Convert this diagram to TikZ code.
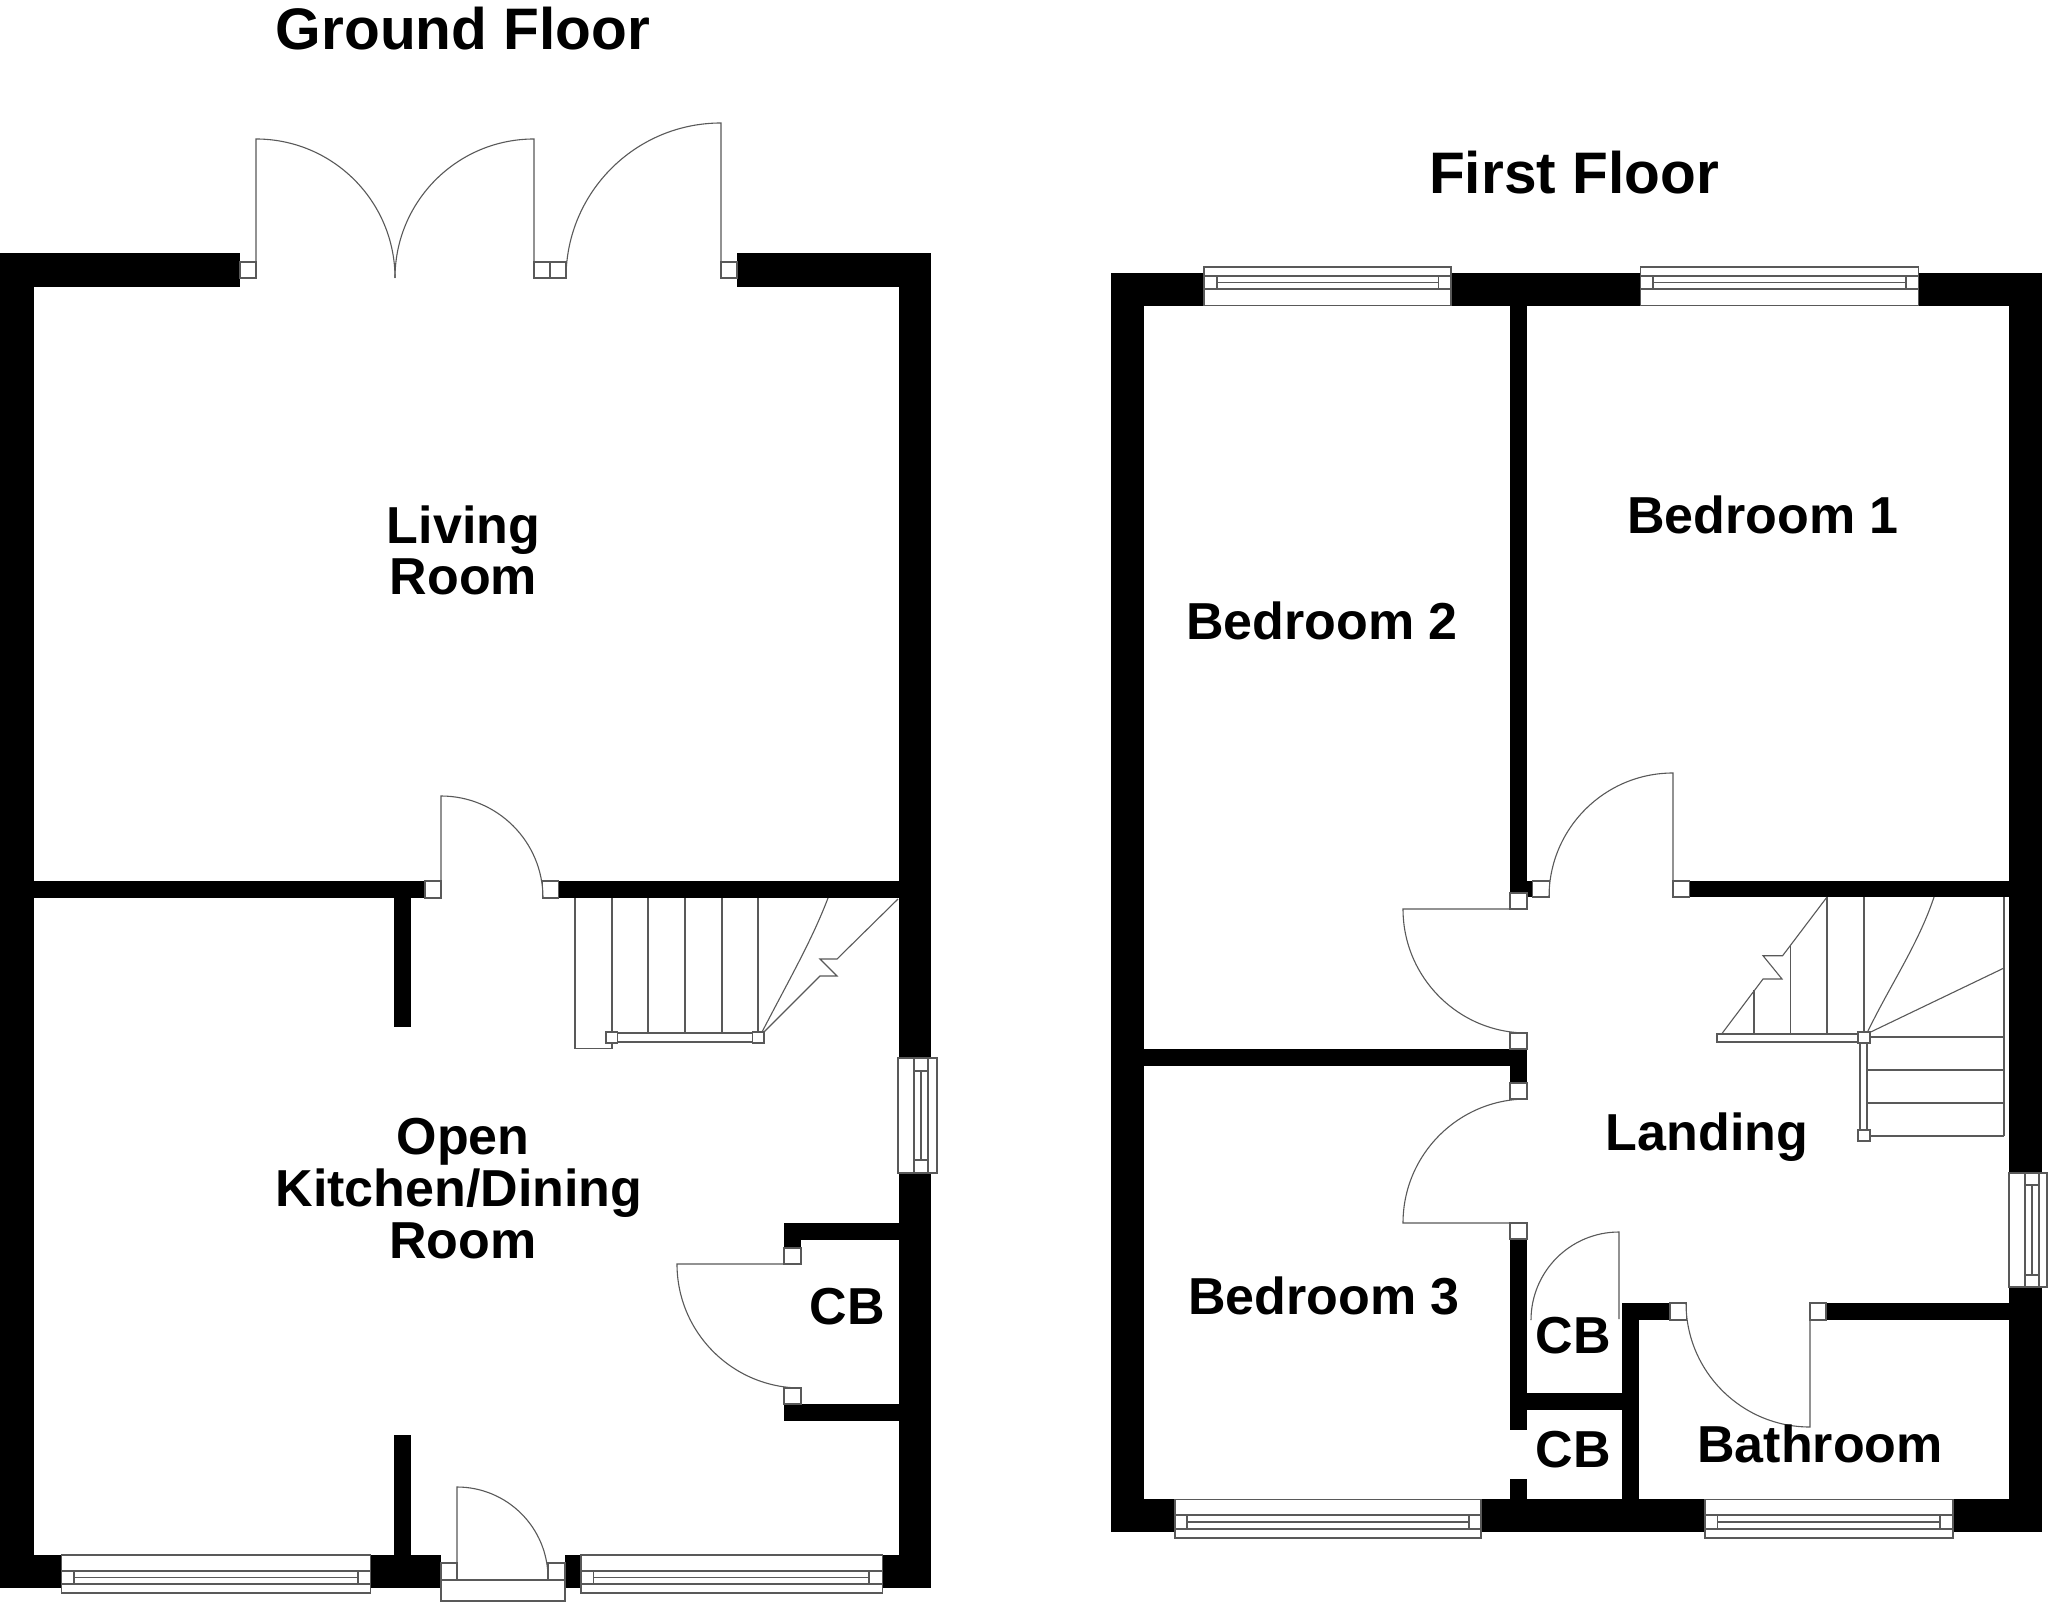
\documentclass[tikz,border=0pt]{standalone}
\usepackage{fontspec}
\setmainfont{Liberation Sans}
\definecolor{ln}{gray}{0.35}
\tikzset{
  wall/.style={fill=black,draw=none},
  thin line/.style={draw=ln,line width=0.55pt},
  frame box/.style={draw=ln,line width=0.55pt,fill=white},
  room/.style={font=\fontsize{26}{25.9}\bfseries\selectfont,align=center,inner sep=0pt,text=black},
  title/.style={font=\fontsize{29.3}{32}\bfseries\selectfont,inner sep=0pt,text=black}
}
% horizontal window: x1,x2,ytop,y1,ymid,y2,ybottom,sashL,sashR
\newcommand{\hwin}[9]{%
  \fill[white] (#1,#3) rectangle (#2,#7);
  \draw[thin line] (#1,#3) rectangle (#2,#7);
  \draw[thin line] (#1,#4) -- (#2,#4) (#1,#6) -- (#2,#6);
  \draw[thin line] (#8,#4) -- (#8,#6) (#9,#4) -- (#9,#6) (#8,#5) -- (#9,#5);
}
\begin{document}
\begin{tikzpicture}[x=0.5pt,y=-0.5pt]
\useasboundingbox (0,0) rectangle (2048,1604);
\fill[white] (0,0) rectangle (2048,1604);
% ------ Ground floor walls
\fill[wall] (0,253.5) rectangle (240,287);
\fill[wall] (737,253.5) rectangle (931,287);
\fill[wall] (0,253.5) rectangle (34,1588);
\fill[wall] (898.5,253.5) rectangle (931,1058);
\fill[wall] (898.5,1173) rectangle (931,1588);
\fill[wall] (0,881) rectangle (425,898);
\fill[wall] (558.5,881) rectangle (899,898);
\fill[wall] (393.6,898) rectangle (410.7,1027);
\fill[wall] (393.6,1435) rectangle (410.7,1555);
\fill[wall] (0,1555) rectangle (61.7,1588);
\fill[wall] (370.7,1555) rectangle (441,1588);
\fill[wall] (565,1555) rectangle (581,1588);
\fill[wall] (882.5,1555) rectangle (931,1588);
\fill[wall] (784,1223) rectangle (899,1239.5);
\fill[wall] (784,1404) rectangle (899,1420.5);
\fill[wall] (784,1239) rectangle (801,1248);
% garden doors
\draw[frame box] (240,262) rectangle (256,278);
\draw[frame box] (534,262) rectangle (550,278);
\draw[frame box] (550,262) rectangle (566,278);
\draw[frame box] (721,262) rectangle (737,278);
\draw[thin line] (256,278) -- (256,139) arc[start angle=-90,end angle=0,radius=139];
\draw[thin line] (534,278) -- (534,139) arc[start angle=-90,end angle=-180,radius=139];
\draw[thin line] (721,278) -- (721,123) arc[start angle=-90,end angle=-180,radius=155];
% living room door
\draw[frame box] (425,881) rectangle (441,898);
\draw[frame box] (542.5,881) rectangle (558.5,898);
\draw[thin line] (441,898) -- (441,796) arc[start angle=-90,end angle=0,radius=102];
% ground stairs
\draw[thin line] (575,898) -- (575,1048.5) -- (612,1048.5) -- (612,898);
\foreach \tx in {648,685,722,758} \draw[thin line] (\tx,898) -- (\tx,1033);
\draw[frame box] (606,1033) rectangle (764,1042);
\draw[frame box] (606,1032) rectangle (617.5,1043);
\draw[frame box] (752.5,1032) rectangle (764,1043);
\draw[thin line] (762,1032) .. controls (790,978) and (812,940) .. (828,898);
\draw[thin line] (898,899) -- (837,959) -- (820,959) -- (837,976) -- (820,976) -- (764,1032);
% ground right window
\fill[white] (898,1058) rectangle (937,1173);
\draw[thin line] (898,1058) rectangle (937,1173);
\draw[thin line] (914,1058) -- (914,1173) (928,1058) -- (928,1173);
\draw[thin line] (914,1071) -- (928,1071) (914,1160) -- (928,1160) (921,1071) -- (921,1160);
% CB door ground
\draw[frame box] (784,1248) rectangle (801,1264);
\draw[frame box] (784,1388) rectangle (801,1404);
\draw[thin line] (801,1264) -- (677,1264) arc[start angle=-180,end angle=-270,radius=124];
% front door
\draw[frame box] (441,1563) rectangle (457,1580);
\draw[frame box] (548,1563) rectangle (565,1580);
\draw[frame box] (441,1580) rectangle (565,1601);
\draw[thin line] (457,1580) -- (457,1487) arc[start angle=-90,end angle=0,radius=91];
% ground windows
\hwin{61.7}{370.7}{1555}{1571}{1577.7}{1584}{1593}{74}{358}
\hwin{581}{882.5}{1555}{1571}{1577.7}{1584}{1593}{593.6}{869}
% ------ First floor walls
\fill[wall] (1111,272.7) rectangle (2041.6,305.7);
\fill[wall] (1111,272.7) rectangle (1144,1532);
\fill[wall] (2009,272.7) rectangle (2041.6,1173);
\fill[wall] (2009,1287) rectangle (2041.6,1532);
\fill[wall] (1510,305) rectangle (1527,893);
\fill[wall] (1510,881) rectangle (1532.5,893);
\fill[wall] (1527,881) rectangle (1532.5,897);
\fill[wall] (1689.5,881) rectangle (2010,897);
\fill[wall] (1144,1049) rectangle (1527,1066);
\fill[wall] (1510,1049) rectangle (1527,1083);
\fill[wall] (1510,1239) rectangle (1527,1430);
\fill[wall] (1510,1479) rectangle (1527,1499);
\fill[wall] (1527,1393) rectangle (1622,1410);
\fill[wall] (1622,1303) rectangle (1639,1499);
\fill[wall] (1622,1303) rectangle (1670,1320);
\fill[wall] (1826,1303) rectangle (2010,1320);
\fill[wall] (1111,1499) rectangle (2041.6,1532);
% first floor windows
\hwin{1204}{1451}{267}{276}{282.7}{289}{305.7}{1217}{1438.6}
\hwin{1640.5}{1918.5}{267}{276}{282.7}{289}{305.7}{1653}{1906}
\hwin{1175}{1481}{1499.3}{1515}{1522}{1529}{1538}{1187}{1469}
\hwin{1705}{1953}{1499.3}{1515}{1522}{1529}{1538}{1717.5}{1940}
\fill[white] (2009,1173) rectangle (2047,1287);
\draw[thin line] (2009,1173) rectangle (2047,1287);
\draw[thin line] (2025,1173) -- (2025,1287) (2039,1173) -- (2039,1287);
\draw[thin line] (2025,1185) -- (2039,1185) (2025,1275) -- (2039,1275) (2032,1185) -- (2032,1275);
% first floor doors
\draw[frame box] (1532.5,881) rectangle (1549.6,897);
\draw[frame box] (1673,881) rectangle (1689.5,897);
\draw[thin line] (1673,897) -- (1673,773) arc[start angle=-90,end angle=-180,radius=124];
\draw[frame box] (1510,893) rectangle (1527,909);
\draw[frame box] (1510,1033) rectangle (1527,1049);
\draw[thin line] (1527,909) -- (1403,909) arc[start angle=-180,end angle=-270,radius=124];
\draw[frame box] (1510,1083) rectangle (1527,1099);
\draw[frame box] (1510,1223) rectangle (1527,1239);
\draw[thin line] (1527,1223) -- (1403,1223) arc[start angle=-180,end angle=-90,radius=124];
\draw[thin line] (1619,1319) -- (1619,1232) arc[start angle=-90,end angle=-180,radius=88];
\draw[frame box] (1670,1303) rectangle (1686.5,1320);
\draw[frame box] (1810,1303) rectangle (1826,1320);
\draw[thin line] (1810,1303) -- (1810,1427) arc[start angle=-270,end angle=-180,radius=124];
% first floor stairs
\draw[thin line] (1827,897) -- (1782.6,955.7) -- (1763,955.7) -- (1782,979) -- (1763,979) -- (1721.6,1034);
\draw[thin line] (1827,897) -- (1827,1034) (1864,897) -- (1864,1034);
\draw[thin line] (1790.7,945) -- (1790.7,1034) (1754,990) -- (1754,1034);
\draw[thin line] (1866.5,1034) .. controls (1890,985) and (1918,945) .. (1934,897);
\draw[thin line] (1866.5,1034) -- (2004,968);
\draw[thin line] (2004,897) -- (2004,1136);
\foreach \ty in {1037,1070,1103,1136} \draw[thin line] (1868,\ty) -- (2004,\ty);
\draw[frame box] (1717,1034) rectangle (1858,1042);
\draw[frame box] (1860,1043) rectangle (1867,1130);
\draw[frame box] (1858,1032) rectangle (1870,1043);
\draw[frame box] (1858,1130) rectangle (1870,1141);
% ------ Text
\node[title] (gf) at (463,29) {Ground Floor};
\node[title] (ff) at (1574,173) {First Floor};
\node[room] (living) at (463.5,550.5) {Living\\Room};
\node[room] (kitchen) at (459,1188.5) {\hspace*{4pt}Open\\Kitchen/Dining\\\hspace*{4pt}Room};
\node[room] (cb1) at (847,1307) {CB};
\node[room] (bed1) at (1763,515) {Bedroom 1};
\node[room] (bed2) at (1322,621) {Bedroom 2};
\node[room] (bed3) at (1324,1296) {Bedroom 3};
\node[room] (landing) at (1707,1137) {Landing};
\node[room] (cb2) at (1573,1336) {CB};
\node[room] (cb3) at (1573,1450) {CB};
\node[room] (bath) at (1820,1444) {Bathroom};
\end{tikzpicture}
\end{document}
